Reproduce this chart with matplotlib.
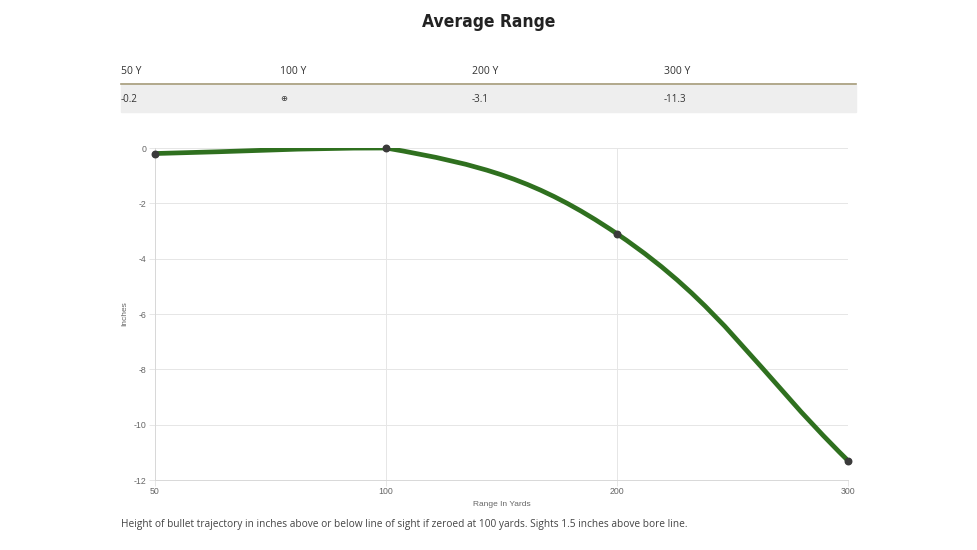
import numpy as np
import matplotlib.pyplot as plt
from matplotlib.path import Path
from matplotlib.patches import PathPatch, Rectangle
from matplotlib import font_manager

plt.rcParams['axes.unicode_minus'] = False

# data
ranges = ['50', '100', '200', '300']
drop = [-0.2, 0.0, -3.1, -11.3]
table_heads = ['50 Y', '100 Y', '200 Y', '300 Y']
table_vals = ['-0.2', '\u2295', '-3.1', '-11.3']
y_ticks = [0, -2, -4, -6, -8, -10, -12]

W, H = 978, 550
fig = plt.figure(figsize=(W / 100, H / 100), dpi=100)
ax = fig.add_axes([155 / W, 1 - 480 / H, (848 - 155) / W, (480 - 148) / H])

xs = np.arange(len(ranges))
ax.set_xlim(0, len(ranges) - 1)
ax.set_ylim(-12, 0)

# smooth line like chart.js (tension 0.4), control points in pixel space
pts = ax.transData.transform(np.column_stack([xs, drop]))
top = ax.transData.transform((0, 0))[1]
bot = ax.transData.transform((0, -12))[1]
t = 0.4
cps = []
for i in range(len(pts)):
    prev = pts[max(i - 1, 0)]
    cur = pts[i]
    nxt = pts[min(i + 1, len(pts) - 1)]
    d01 = np.hypot(*(cur - prev))
    d12 = np.hypot(*(nxt - cur))
    s01 = d01 / (d01 + d12) if d01 + d12 else 0
    s12 = d12 / (d01 + d12) if d01 + d12 else 0
    c1 = cur - t * s01 * (nxt - prev)
    c2 = cur + t * s12 * (nxt - prev)
    c1[1] = np.clip(c1[1], bot, top)
    c2[1] = np.clip(c2[1], bot, top)
    cps.append((c1, c2))
verts = [pts[0]]
codes = [Path.MOVETO]
for i in range(len(pts) - 1):
    verts += [cps[i][1], cps[i + 1][0], pts[i + 1]]
    codes += [Path.CURVE4] * 3
inv = ax.transData.inverted()
verts = inv.transform(np.array(verts))
ax.add_patch(PathPatch(Path(verts, codes), fill=False, edgecolor='#2f701f',
                       lw=3.4, capstyle='round', joinstyle='round', zorder=3))
ax.scatter(xs, drop, s=22, color='#3a3a3a', zorder=4, clip_on=False)

ax.set_xticks(xs)
ax.set_xticklabels(ranges)
ax.set_yticks(y_ticks)
ax.tick_params(labelsize=6.3, colors='#666666', length=4, width=0.6, pad=2)
ax.tick_params(axis='x', pad=1)
for lbl in ax.get_xticklabels() + ax.get_yticklabels():
    lbl.set_color('#666666')
    lbl.set_family(['Liberation Sans', 'DejaVu Sans'])
ax.tick_params(color='#e3e3e3')
ax.grid(True, color='#e6e6e6', lw=0.7)
ax.set_axisbelow(True)
for s in ['top', 'right']:
    ax.spines[s].set_visible(False)
for s in ['left', 'bottom']:
    ax.spines[s].set_color('#d8d8d8')
    ax.spines[s].set_linewidth(0.7)
ax.set_xlabel('Range In Yards', fontsize=6, color='#666666', labelpad=4,
              family=['Liberation Sans', 'DejaVu Sans'])
ax.set_ylabel('Inches', fontsize=6, color='#666666', labelpad=4,
              family=['Liberation Sans', 'DejaVu Sans'])

title_font = font_manager.FontProperties(family='DejaVu Sans', stretch='condensed',
                                         weight='bold', size=12.5)
fig.text(489 / W, 1 - 22 / H, 'Average Range', ha='center', va='center',
         fontproperties=title_font, color='#222222')

# table
fig.patches.append(Rectangle((121 / W, 1 - 112 / H), (856 - 121) / W, 27 / H,
                             transform=fig.transFigure, color='#eeeeee', zorder=0))
fig.lines.append(plt.Line2D([121 / W, 856 / W], [1 - 84.5 / H] * 2,
                            transform=fig.transFigure, color='#a49a78', lw=1.2))
cols = [121, 280, 472, 664]
for x, h, v in zip(cols, table_heads, table_vals):
    fig.text(x / W, 1 - 71 / H, h, ha='left', va='center', fontsize=7.5,
             color='#333333', family='Open Sans')
    fig.text(x / W, 1 - 99.5 / H, v, ha='left', va='center',
             fontsize=7 if v != '\u2295' else 6, color='#333333',
             family=['Open Sans', 'DejaVu Sans'])

fig.text(121 / W, 1 - 525 / H,
         'Height of bullet trajectory in inches above or below line of sight if '
         'zeroed at 100 yards. Sights 1.5 inches above bore line.',
         ha='left', va='center', fontsize=7.3, color='#444444', family='Open Sans')

fig.savefig('out.png', dpi=100)
